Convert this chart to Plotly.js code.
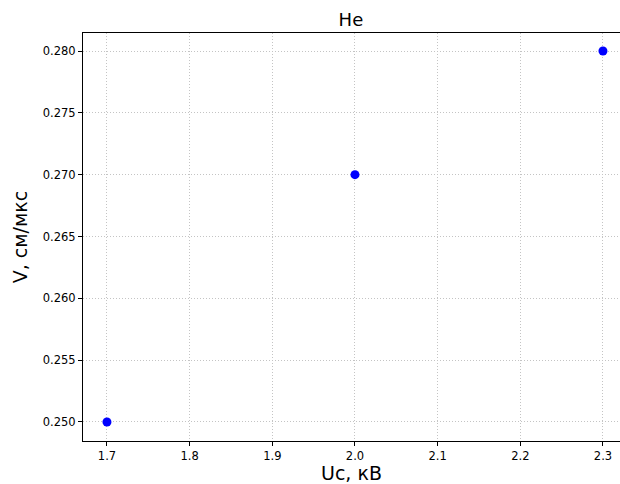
<!DOCTYPE html>
<html><head><meta charset="utf-8">
<script src="https://cdn.plot.ly/plotly-3.0.1.min.js"></script>
<style>body{margin:0;padding:0;background:#fff}#chart{width:620px;height:484px}</style>
</head><body><div id="chart"></div>
<script>
const voltage = [1.7, 2.0, 2.3];
const velocity = [0.250, 0.270, 0.280];
const xTicks = [1.7, 1.8, 1.9, 2.0, 2.1, 2.2, 2.3];
const yTicks = [0.250, 0.255, 0.260, 0.265, 0.270, 0.275, 0.280];

const trace = {
  x: voltage, y: velocity, type: 'scatter', mode: 'markers',
  marker: {color: '#0000ff', size: 9}
};
const font = {family: 'DejaVu Sans, sans-serif', color: '#000'};
const layout = {
  width: 620, height: 484,
  margin: {l: 83, r: 0, t: 33, b: 43},
  paper_bgcolor: '#fff', plot_bgcolor: '#fff',
  showlegend: false,
  font: Object.assign({size: 11}, font),
  title: {text: 'He', font: Object.assign({size: 18}, font), x: 0.566, xanchor: 'center', y: 0.96, yanchor: 'middle'},
  xaxis: {
    range: [1.671, 2.3206], tickvals: xTicks, ticktext: xTicks.map(v => v.toFixed(1)),
    showline: true, linecolor: '#000', linewidth: 1, mirror: true,
    ticks: 'outside', ticklen: 4, tickcolor: '#000',
    showgrid: true, gridcolor: '#c4c4c4', griddash: '1px,2px', gridwidth: 1,
    zeroline: false, tickfont: Object.assign({size: 11.5}, font),
    title: {text: 'Uc, кВ', font: Object.assign({size: 19}, font), standoff: 10}
  },
  yaxis: {
    range: [0.24846, 0.28146], tickvals: yTicks, ticktext: yTicks.map(v => v.toFixed(3)),
    showline: true, linecolor: '#000', linewidth: 1, mirror: false,
    ticks: 'outside', ticklen: 4, tickcolor: '#000',
    showgrid: true, gridcolor: '#c4c4c4', griddash: '1px,2px', gridwidth: 1,
    zeroline: false, tickfont: Object.assign({size: 11.5}, font),
    title: {text: 'V, см/мкс', font: Object.assign({size: 19}, font), standoff: 10}
  }
};
Plotly.newPlot('chart', [trace], layout, {displayModeBar: false, staticPlot: true});
</script></body></html>
